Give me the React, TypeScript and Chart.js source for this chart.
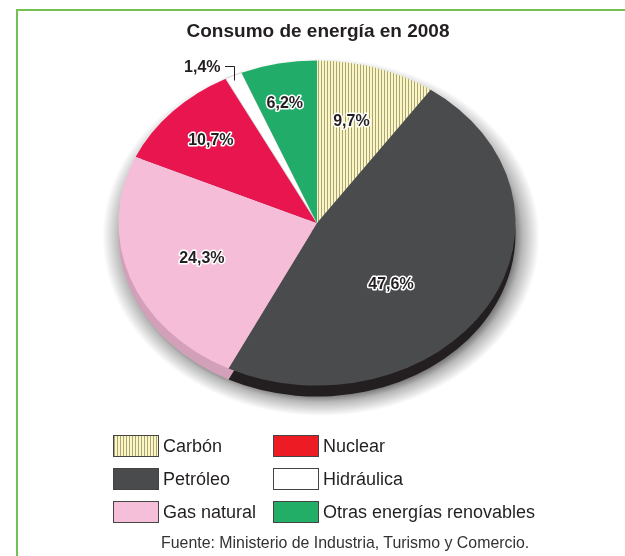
import React, { useEffect, useRef } from "react";
import { Chart, registerables } from "chart.js";

Chart.register(...registerables);

const TITLE = "Consumo de energía en 2008";
const SOURCE = "Fuente: Ministerio de Industria, Turismo y Comercio.";
const categories = ["Carbón", "Petróleo", "Gas natural", "Nuclear", "Hidráulica", "Otras energías renovables"];
const values = [9.7, 47.6, 24.3, 10.7, 1.4, 6.2];
const valueLabels = ["9,7%", "47,6%", "24,3%", "10,7%", "1,4%", "6,2%"];
const legendOrder = [0, 1, 2, 3, 4, 5];

const topColors = ["PATTERN", "#4a4b4d", "#f5bdd7", "#e8154f", "#ffffff", "#21ad69"];
const sideColors = ["#cbc597", "#231f20", "#d3a0ba", "#a50f39", "#dddddd", "#178a52"];
const legendColors = ["PATTERN", "#4a4b4d", "#f6bfd9", "#ed1c24", "#ffffff", "#22ae67"];
// label placement: fraction of radius (negative = outside callout) and angle nudge (deg)
const labelRadius = [0.65, 0.53, 0.62, 0.735, -1, 0.75];
const labelShift = [-2, 14.6, -1, 0, 0, -1.3];

const FONT = '"Liberation Sans", Arial, Helvetica, sans-serif';
const SQUASH = 0.819;
const DEPTH = 11;

function makeStripe(): CanvasPattern | string {
  const c = document.createElement("canvas");
  c.width = 3;
  c.height = 4;
  const g = c.getContext("2d");
  if (!g) return "#fcf6c2";
  g.fillStyle = "#fcf6c2";
  g.fillRect(0, 0, 3, 4);
  g.fillStyle = "#a9a67e";
  g.fillRect(0, 0, 1, 4);
  const p = g.createPattern(c, "repeat");
  return p || "#fcf6c2";
}

export default function App() {
  const ref = useRef<HTMLCanvasElement | null>(null);

  useEffect(() => {
    document.body.style.margin = "0";
    const canvas = ref.current;
    if (!canvas) return;
    const stripe = makeStripe();
    const bg = topColors.map((c) => (c === "PATTERN" ? stripe : c));

    const pie3d = {
      id: "pie3d",
      beforeDatasetsDraw(chart: any) {
        const ctx = chart.ctx as CanvasRenderingContext2D;
        const meta = chart.getDatasetMeta(0);
        const arcs = meta.data as any[];
        if (!arcs.length) return;
        const cx = arcs[0].x;
        const cy = arcs[0].y;
        const r = arcs[0].outerRadius;
        ctx.save();
        // soft shadow (radial gradient halo)
        ctx.save();
        ctx.translate(4, cy + DEPTH + 3);
        ctx.scale(1, SQUASH);
        ctx.translate(0, -cy);
        const grad = ctx.createRadialGradient(cx, cy, r - 6, cx, cy, r + 20);
        grad.addColorStop(0, "rgba(0,0,0,0.55)");
        grad.addColorStop(0.35, "rgba(0,0,0,0.28)");
        grad.addColorStop(1, "rgba(0,0,0,0)");
        ctx.fillStyle = grad;
        ctx.beginPath();
        ctx.arc(cx, cy, r + 20, 0, Math.PI * 2);
        ctx.fill();
        ctx.restore();
        // sides
        arcs.forEach((el, i) => {
          ctx.save();
          ctx.translate(0, cy + DEPTH);
          ctx.scale(1, SQUASH);
          ctx.translate(0, -cy);
          ctx.beginPath();
          ctx.moveTo(cx, cy);
          ctx.arc(cx, cy, r, el.startAngle, el.endAngle);
          ctx.closePath();
          ctx.restore();
          ctx.fillStyle = sideColors[i];
          ctx.fill();
        });
        // squash for the top face
        ctx.translate(0, cy);
        ctx.scale(1, SQUASH);
        ctx.translate(0, -cy);
      },
      afterDatasetsDraw(chart: any) {
        const ctx = chart.ctx as CanvasRenderingContext2D;
        ctx.restore();
        const meta = chart.getDatasetMeta(0);
        const arcs = meta.data as any[];
        ctx.save();
        ctx.font = `bold 16px ${FONT}`;
        ctx.textBaseline = "middle";
        ctx.lineJoin = "round";
        arcs.forEach((el, i) => {
          const mid = (el.startAngle + el.endAngle) / 2 + (labelShift[i] * Math.PI) / 180;
          const f = labelRadius[i];
          const cx = el.x;
          const cy = el.y;
          const r = el.outerRadius;
          if (f > 0) {
            const x = cx + f * r * Math.cos(mid);
            const y = cy + f * r * Math.sin(mid) * SQUASH;
            ctx.textAlign = "center";
            ctx.strokeStyle = "#ffffff";
            ctx.lineWidth = 3;
            ctx.strokeText(valueLabels[i], x, y);
            ctx.fillStyle = "#231f20";
            ctx.fillText(valueLabels[i], x, y);
          } else {
            const ex = cx + r * Math.cos(mid);
            const ey = cy + r * Math.sin(mid) * SQUASH;
            const ly = ey - 9;
            ctx.strokeStyle = "#231f20";
            ctx.lineWidth = 1;
            ctx.beginPath();
            ctx.moveTo(Math.round(ex) + 0.5, ey + 5);
            ctx.lineTo(Math.round(ex) + 0.5, Math.round(ly) + 0.5);
            ctx.lineTo(Math.round(ex) - 9, Math.round(ly) + 0.5);
            ctx.stroke();
            ctx.textAlign = "right";
            ctx.fillStyle = "#231f20";
            ctx.fillText(valueLabels[i], ex - 13, ly + 1);
          }
        });
        ctx.restore();
      },
    };

    const chart = new Chart(canvas, {
      type: "pie",
      data: {
        labels: categories,
        datasets: [
          {
            data: values,
            backgroundColor: bg as any,
            borderWidth: [0, 0, 0, 0, 1, 0],
            borderColor: "#cfcfcf",
            clip: false as any,
          },
        ],
      },
      options: {
        responsive: false,
        animation: false,
        events: [],
        layout: { padding: { left: 118, right: 109, top: 24, bottom: 134 } },
        plugins: {
          legend: { display: false },
          tooltip: { enabled: false },
          title: { display: false },
        },
      },
      plugins: [pie3d],
    });
    return () => chart.destroy();
  }, []);

  const swatchBg = (i: number) =>
    legendColors[i] === "PATTERN"
      ? "repeating-linear-gradient(90deg, #a9a67e 0px, #a9a67e 1px, #fcf6c2 1px, #fcf6c2 3px)"
      : legendColors[i];

  const rowY = [446, 479, 512];
  const colX = [113, 273];

  return (
    <div style={{ position: "relative", width: 625, height: 556, overflow: "hidden", background: "#fff", fontFamily: FONT, color: "#231f20" }}>
      <div
        style={{
          position: "absolute",
          left: 16,
          top: 9,
          right: -4,
          bottom: -4,
          borderTop: "2px solid #72c152",
          borderLeft: "2px solid #72c152",
        }}
      />
      <canvas ref={ref} width={625} height={556} style={{ position: "absolute", left: 0, top: 0 }} />
      <div style={{ position: "absolute", left: 0, width: 636, top: 19, textAlign: "center", fontWeight: "bold", fontSize: 19, lineHeight: "24px" }}>
        {TITLE}
      </div>
      {legendOrder.map((idx, k) => {
        const col = Math.floor(k / 3);
        const row = k % 3;
        return (
          <div key={idx} style={{ position: "absolute", left: colX[col], top: rowY[row] - 12, height: 24, display: "flex", alignItems: "center" }}>
            <div
              style={{
                width: 44,
                height: 20,
                border: "1.5px solid #444",
                background: swatchBg(idx),
                boxSizing: "content-box",
              }}
            />
            <span style={{ marginLeft: 4, fontSize: 18, whiteSpace: "nowrap" }}>{categories[idx]}</span>
          </div>
        );
      })}
      <div style={{ position: "absolute", left: 161, top: 533, fontSize: 15.9, lineHeight: "20px", color: "#333", whiteSpace: "nowrap" }}>
        {SOURCE}
      </div>
    </div>
  );
}
